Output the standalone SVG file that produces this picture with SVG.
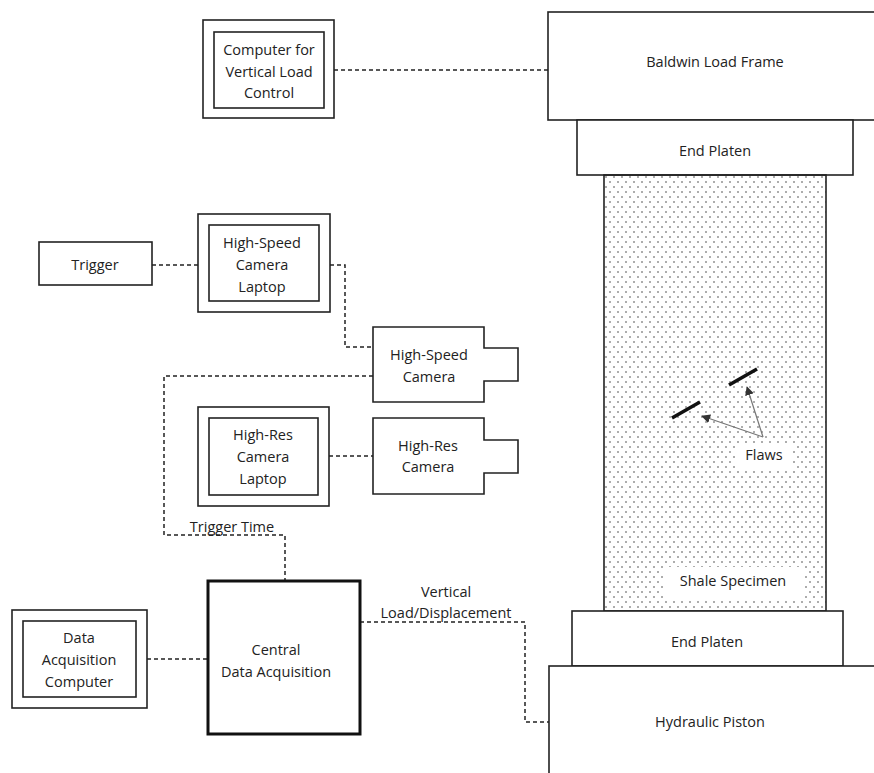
<svg xmlns="http://www.w3.org/2000/svg" width="874" height="773" viewBox="0 0 874 773">
<defs>
<style>
.b{fill:#fff;stroke:#222;stroke-width:1.6}
.t{font-family:"Open Sans","Liberation Sans",sans-serif;font-size:14.5px;fill:#222;text-anchor:middle}
.c{fill:none;stroke:#222;stroke-width:1.5;stroke-dasharray:4 3}
.f{stroke:#111;stroke-width:3.5;stroke-linecap:butt}
.a{stroke:#777;stroke-width:1.2;fill:none}
</style>
<pattern id="dots" x="0" y="0" width="8" height="10" patternUnits="userSpaceOnUse">
<circle cx="2" cy="2" r="0.8" fill="#444"/>
<circle cx="6" cy="7" r="0.8" fill="#444"/>
</pattern>
<marker id="ah" viewBox="0 0 10 10" refX="9" refY="5" markerWidth="9" markerHeight="9" orient="auto" markerUnits="userSpaceOnUse">
<path d="M0,0 L10,5 L0,10 z" fill="#333"/>
</marker>
</defs>
<rect width="874" height="773" fill="#fff"/>

<g id="connectors">
<path class="c" d="M334,70 H548"/>
<path class="c" d="M152,265 H198"/>
<path class="c" d="M330,265 H345 V347 H373"/>
<path class="c" d="M373,376 H164 V535 H285 V581"/>
<path class="c" d="M329,456 H373"/>
<path class="c" d="M147,659 H208"/>
<path class="c" d="M360,622 H525 V722 H549"/>
<text class="t" x="232" y="532">Trigger Time</text>
<text class="t" x="446" y="597">Vertical</text>
<text class="t" x="446" y="618">Load/Displacement</text>
</g>

<g id="baldwin">
<rect class="b" x="548" y="12" width="340" height="108"/>
<text class="t" x="715" y="67">Baldwin Load Frame</text>
</g>
<g id="endplaten-top">
<rect class="b" x="577" y="120" width="276" height="55"/>
<text class="t" x="715" y="156">End Platen</text>
</g>
<g id="specimen">
<rect x="604" y="175" width="222" height="436" fill="url(#dots)" stroke="#222" stroke-width="1.6"/>
<rect x="665" y="567" width="138" height="31" fill="#fff"/>
<text class="t" x="733" y="586">Shale Specimen</text>
</g>
<g id="flaws">
<line class="f" x1="672" y1="418" x2="700" y2="402"/>
<line class="f" x1="729" y1="385" x2="757" y2="369"/>
<line class="a" x1="763" y1="437" x2="702" y2="416" marker-end="url(#ah)"/>
<line class="a" x1="763" y1="437" x2="747" y2="387" marker-end="url(#ah)"/>
<rect x="737" y="443" width="55" height="25" fill="#fff"/>
<text class="t" x="764" y="460">Flaws</text>
</g>
<g id="endplaten-bottom">
<rect class="b" x="572" y="611" width="271" height="55"/>
<text class="t" x="707" y="647">End Platen</text>
</g>
<g id="piston">
<rect class="b" x="549" y="666" width="340" height="120"/>
<text class="t" x="710" y="727">Hydraulic Piston</text>
</g>

<g id="computer-vertical">
<rect class="b" x="203" y="20" width="131" height="98"/>
<rect class="b" x="214" y="32" width="110" height="76"/>
<text class="t" x="269" y="55">Computer for</text>
<text class="t" x="269" y="77">Vertical Load</text>
<text class="t" x="269" y="98">Control</text>
</g>

<g id="trigger">
<rect class="b" x="39" y="242" width="113" height="43"/>
<text class="t" x="95" y="270">Trigger</text>
</g>

<g id="hs-laptop">
<rect class="b" x="198" y="214" width="132" height="98"/>
<rect class="b" x="209" y="225" width="110" height="76"/>
<text class="t" x="262" y="248">High-Speed</text>
<text class="t" x="262" y="270">Camera</text>
<text class="t" x="262" y="292">Laptop</text>
</g>

<g id="hs-camera">
<path class="b" d="M373,327 H484 V348 H518 V381 H484 V402 H373 Z"/>
<text class="t" x="429" y="360">High-Speed</text>
<text class="t" x="429" y="382">Camera</text>
</g>

<g id="hr-laptop">
<rect class="b" x="198" y="407" width="131" height="99"/>
<rect class="b" x="209" y="418" width="109" height="77"/>
<text class="t" x="263" y="440">High-Res</text>
<text class="t" x="263" y="462">Camera</text>
<text class="t" x="263" y="484">Laptop</text>
</g>

<g id="hr-camera">
<path class="b" d="M373,418 H484 V440 H518 V473 H484 V494 H373 Z"/>
<text class="t" x="428" y="451">High-Res</text>
<text class="t" x="428" y="472">Camera</text>
</g>

<g id="central-daq">
<rect x="208" y="581" width="152" height="153" fill="#fff" stroke="#111" stroke-width="3"/>
<text class="t" x="276" y="655">Central</text>
<text class="t" x="276" y="677">Data Acquisition</text>
</g>

<g id="daq-computer">
<rect class="b" x="12" y="610" width="135" height="98"/>
<rect class="b" x="23" y="621" width="113" height="76"/>
<text class="t" x="79" y="643">Data</text>
<text class="t" x="79" y="665">Acquisition</text>
<text class="t" x="79" y="687">Computer</text>
</g>
</svg>
